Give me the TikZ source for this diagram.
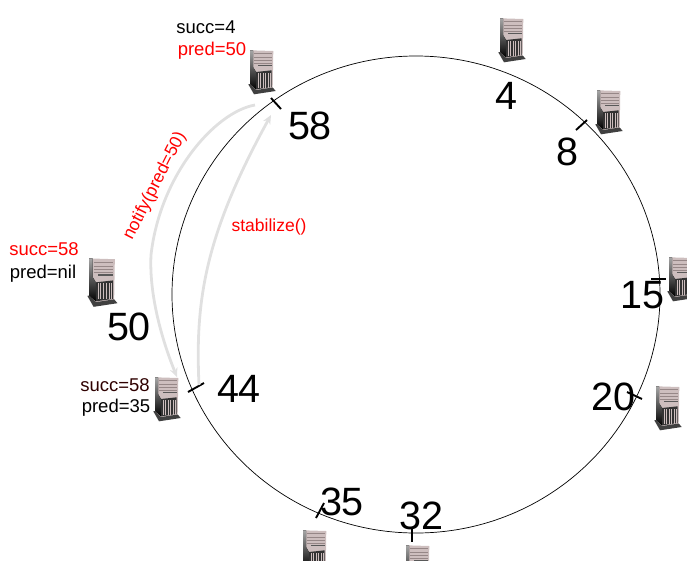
\documentclass[tikz,border=0pt]{standalone}
\usepackage{fontspec}
\setmainfont{Liberation Sans}
\usetikzlibrary{arrows.meta, calc}
\definecolor{case}{RGB}{205,190,190}
\definecolor{slat}{RGB}{150,135,135}

\begin{document}
\begin{tikzpicture}[
    x=1pt, y=-1pt,
    every node/.style={inner sep=0pt},
    idl/.style={font=\fontsize{39.5}{40}\selectfont},
    st/.style={font=\fontsize{18.5}{19}\selectfont},
    upd/.style={st, text=red},
    tck/.style={line width=1.9pt},
    a/.style={-{Stealth[length=9pt,width=8pt]}, line width=2.8pt, draw=black!12},
    server/.pic={
      \fill[case] (2,1.3) -- (25.3,2) -- (24.7,39) -- (8,41) -- (2,35) -- cycle;
      \fill[top color=black!35, bottom color=black] (2,1.3) -- (5,1.3) -- (5,18) -- (8,23) -- (8,40.3) -- (2,35) -- cycle;
      \fill[black!80] (8,23) -- (23.7,21.3) -- (23.7,38) -- (8,40.3) -- cycle;
      \foreach \gx in {10,12.5,...,23} {\draw[case, line width=0.8pt] (\gx,24) -- (\gx,38.5);}
      \foreach \gy in {4.7,8,11,14} {\draw[slat, line width=0.6pt] (6,\gy) -- (24,\gy);}
      \fill[black!65] (10,15.8) rectangle (23.7,17.3);
      \fill[black!75] (0.3,35.3) -- (6,45.3) -- (27.7,42) -- (24.7,38.5) -- (8,41) -- (2,35) -- cycle;
    }
]
\clip (0,0) rectangle (687,560);
\draw[line width=0.7pt] (416,294.5) ellipse [x radius=244, y radius=238.5];

% servers
\pic (s58) at (248,49) {server};
\pic[scale=1.1] (s50) at (87,257) {server};
\pic (s44) at (153,376) {server};
\pic (s4) at (498,17) {server};
\pic (s8) at (595,89) {server};
\pic (s15) at (667,256) {server};
\pic (s20) at (654,385) {server};
\pic (s35) at (301,529) {server};
\pic (s32) at (404,544) {server};

% ticks
\foreach \xa/\ya/\xb/\yb in {271/98/281/109, 576/130/587/120, 651/279/666/279, 627/392/642/399,
    188/392/204/383, 316/518/324/503, 412/527/412/542}
  {\draw[tck] (\xa,\ya) -- (\xb,\yb);}

% ids
\node[idl] (n58) at (310,126) {58};
\node[idl] (n4)  at (506,96)  {4};
\node[idl] (n8)  at (567,152) {8};
\node[idl] (n15) at (642,295) {15};
\node[idl] (n20) at (613,397) {20};
\node[idl] (n50) at (129,327) {50};
\node[idl] (n44) at (239,389) {44};
\node[idl] (n35) at (342,502) {35};
\node[idl] (n32) at (421,516) {32};

% state
\node[st]  (sa) at (206,27)  {succ=4};
\node[upd] (pa) at (212,51)  {pred=50};
\node[upd] (sb) at (44,249)  {succ=58};
\node[st]  (pb) at (43,274)  {pred=nil};
\node[st, text=red!18!black] (sc) at (115,385) {succ=58};
\node[st]  (pc) at (116,408) {pred=35};

% messages
\coordinate (nfa) at (255,105);
\coordinate (nfm) at (151,255);
\coordinate (nfb) at (177,377);
\coordinate (sta) at (199,385);
\coordinate (stb) at (271,115);
\draw[a] (nfa) .. controls (215,112) and (160,175) .. (nfm) .. controls (149,295) and (162,340) .. (nfb);
\draw[a] (sta) .. controls (195,300) and (205,235) .. (stb);
\node[upd, rotate=63, font=\fontsize{17.5}{18}\selectfont] (nf) at (155,186) {notify(pred=50)};
\node[upd, font=\fontsize{17.5}{18}\selectfont] (sz) at (269,227) {stabilize()};
\end{tikzpicture}
\end{document}
